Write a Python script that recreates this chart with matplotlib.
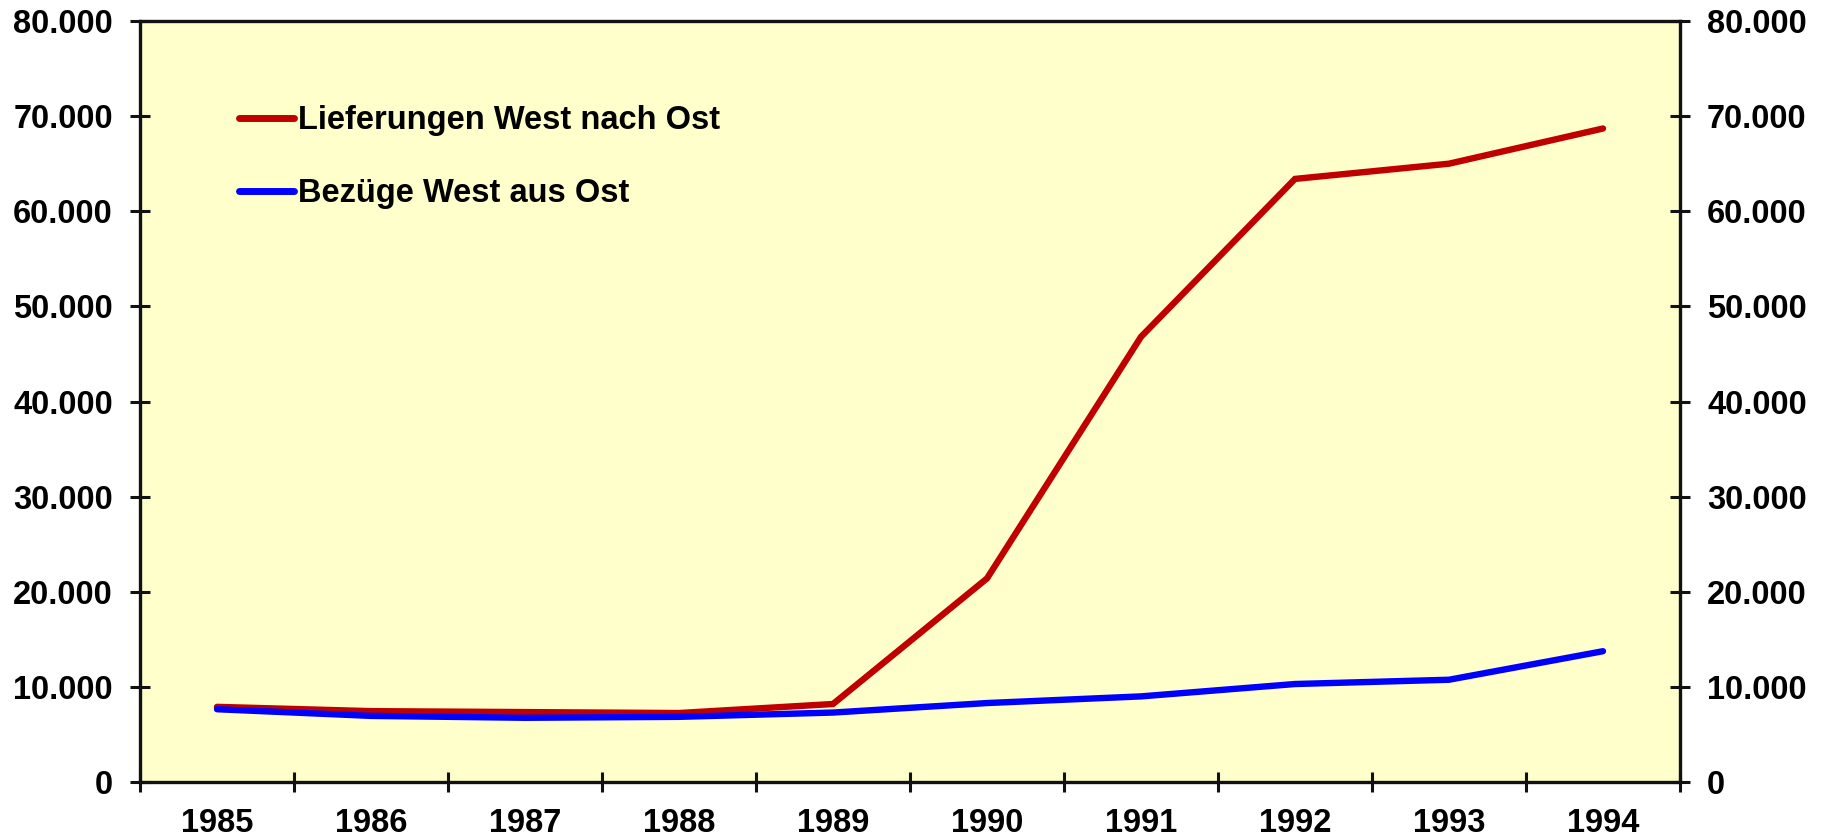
import matplotlib
matplotlib.use("Agg")
import matplotlib.pyplot as plt
from matplotlib.ticker import FixedLocator, FuncFormatter

years = ["1985", "1986", "1987", "1988", "1989", "1990", "1991", "1992", "1993", "1994"]
lieferungen = [7900, 7450, 7350, 7250, 8200, 21400, 46800, 63400, 65000, 68700]
bezuege = [7650, 6950, 6750, 6850, 7300, 8300, 9000, 10300, 10750, 13750]
series_names = ["Lieferungen West nach Ost", "Bezüge West aus Ost"]
yticks = [0, 10000, 20000, 30000, 40000, 50000, 60000, 70000, 80000]

plt.rcParams['font.family'] = ['Liberation Sans', 'DejaVu Sans']
plt.rcParams['font.weight'] = 'bold'

fig = plt.figure(figsize=(18.25, 8.36), dpi=100)
ax = fig.add_axes([140/1825, 54/836, 1540/1825, 761/836])
ax.set_facecolor('#FFFFCC')

x = list(range(len(years)))
ax.plot(x, lieferungen, color='#C00000', lw=4.6, solid_capstyle='round', solid_joinstyle='miter', label=series_names[0])
ax.plot(x, bezuege, color='#0000FF', lw=4.6, solid_capstyle='round', solid_joinstyle='miter', label=series_names[1])

ax.set_xlim(-0.5, len(years) - 0.5)
ax.set_ylim(0, 80000)

# x: ticks at boundaries, labels at centers
ax.xaxis.set_major_locator(FixedLocator([i - 0.5 for i in range(len(years) + 1)]))
ax.xaxis.set_major_formatter(FuncFormatter(lambda v, p: ""))
ax.xaxis.set_minor_locator(FixedLocator(x))
ax.set_xticks(x, years, minor=True)
ax.tick_params(axis='x', which='major', direction='inout', length=15, width=2.2, color='#111111')
ax.tick_params(axis='x', which='minor', length=0, pad=19, labelsize=23.5)

fmt = FuncFormatter(lambda v, p: f"{int(v):,}".replace(",", "."))
ax.set_yticks(yticks)
ax.yaxis.set_major_formatter(fmt)
ax.tick_params(axis='y', direction='inout', length=15, width=2.2, color='#111111',
               labelsize=23.5, pad=12, left=True, right=True, labelleft=True, labelright=True)

for s in ax.spines.values():
    s.set_linewidth(2.4)
    s.set_color('#111111')

for lab in ax.get_xticklabels(minor=True) + ax.get_yticklabels():
    lab.set_fontweight('bold')

leg = ax.legend(loc='upper left', bbox_to_anchor=(0.0643, 0.889), frameon=False,
                prop={'size': 23.5, 'weight': 'bold'}, handlelength=1.68, handletextpad=0.12,
                labelspacing=1.28, borderpad=0, borderaxespad=0)
for h in leg.get_lines():
    h.set_linewidth(5.0)

fig.savefig("out.png", dpi=100, facecolor='white')
